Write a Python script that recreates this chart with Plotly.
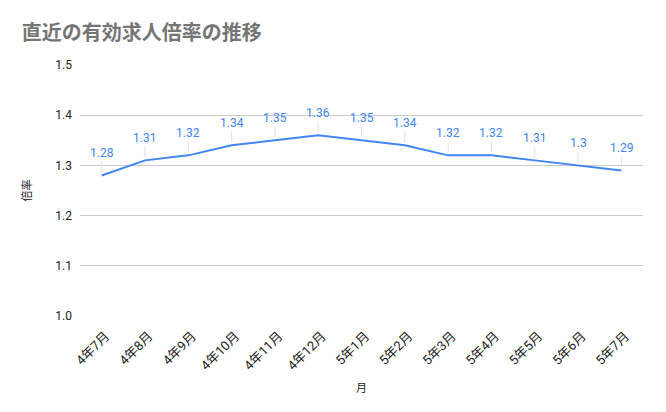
import plotly.graph_objects as go

months = ["4年7月", "4年8月", "4年9月", "4年10月", "4年11月", "4年12月", "5年1月",
          "5年2月", "5年3月", "5年4月", "5年5月", "5年6月", "5年7月"]
ratios = [1.28, 1.31, 1.32, 1.34, 1.35, 1.36, 1.35, 1.34, 1.32, 1.32, 1.31, 1.30, 1.29]
ratio_labels = ["1.28", "1.31", "1.32", "1.34", "1.35", "1.36", "1.35",
                "1.34", "1.32", "1.32", "1.31", "1.3", "1.29"]
y_ticks = [1.0, 1.1, 1.2, 1.3, 1.4, 1.5]

FONT = "Roboto, 'Noto Sans CJK JP', sans-serif"
BLUE = "#4285F4"

# page body adds an 8px margin, so the figure is drawn 8px smaller
fig = go.Figure()
fig.add_trace(go.Scatter(
    x=months,
    y=ratios,
    mode="lines",
    line=dict(color=BLUE, width=2),
    hoverinfo="x+y",
))

for m, v, t in zip(months, ratios, ratio_labels):
    fig.add_annotation(
        x=m, y=v, text=t,
        showarrow=True, arrowhead=0, arrowwidth=1, arrowcolor="#e0e0e0",
        ax=0, ay=-22, standoff=3,
        font=dict(family=FONT, size=12, color=BLUE),
    )

fig.update_layout(
    width=658,
    height=404,
    paper_bgcolor="white",
    plot_bgcolor="white",
    margin=dict(l=72, r=23, t=57, b=96),
    showlegend=False,
    font=dict(family=FONT, color="#222222"),
    title=dict(
        text="<b>直近の有効求人倍率の推移</b>",
        x=0.021, xanchor="left", y=0.938, yanchor="middle",
        font=dict(family=FONT, size=20, color="#757575"),
    ),
    xaxis=dict(
        title=dict(text="月", font=dict(size=11, color="#222222"), standoff=12),
        range=[-0.5, 12.5],
        tickangle=-45,
        tickfont=dict(size=13, color="#222222"),
        ticklabelshift=4,
        ticklabelstandoff=9,
        showgrid=False,
        showline=False,
        zeroline=False,
        automargin=False,
    ),
    yaxis=dict(
        title=dict(text="倍率", font=dict(size=11, color="#222222"), standoff=21),
        range=[1.0, 1.5],
        tickvals=y_ticks,
        tickformat=".1f",
        tickfont=dict(size=12, color="#222222"),
        gridcolor="#cccccc",
        zeroline=False,
        showline=False,
        ticklabelstandoff=7,
        automargin=False,
    ),
)

fig.write_html("out.html")
